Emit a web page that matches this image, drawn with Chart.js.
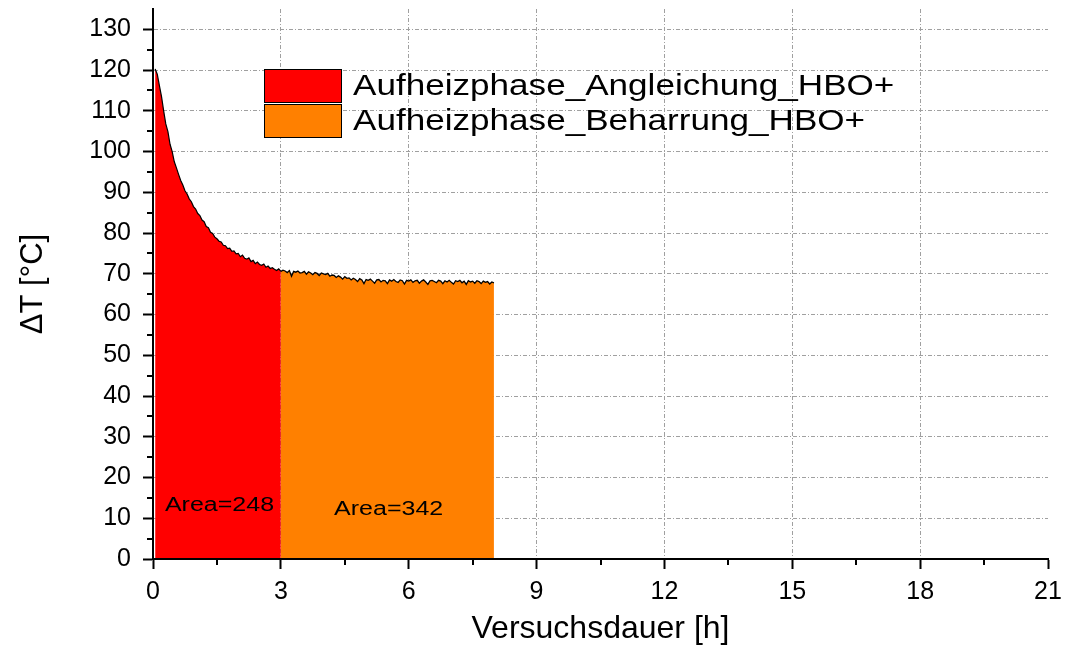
<!DOCTYPE html>
<html>
<head>
<meta charset="utf-8">
<script src="https://cdn.jsdelivr.net/npm/chart.js@4"></script>
<style>
html,body{margin:0;padding:0;background:#fff;}
#c{display:block;}
</style>
</head>
<body>
<canvas id="c" width="1065" height="650"></canvas>
<script>
// ---- data ----
const legendLabels = ['Aufheizphase_Angleichung_HBO+', 'Aufheizphase_Beharrung_HBO+'];
const areaLabels = ['Area=248', 'Area=342'];
const xTicks = [0, 3, 6, 9, 12, 15, 18, 21];
const yTicks = [0, 10, 20, 30, 40, 50, 60, 70, 80, 90, 100, 110, 120, 130];
const xTitle = 'Versuchsdauer [h]';
const yTitle = '\u0394T [\u00B0C]';

const redTime = [0.05,0.10,0.15,0.20,0.25,0.30,0.35,0.40,0.45,0.50,
  0.55,0.60,0.65,0.70,0.75,0.80,0.85,0.90,0.95,1.00,
  1.05,1.10,1.15,1.20,1.25,1.30,1.35,1.40,1.45,1.50,
  1.55,1.60,1.65,1.70,1.75,1.80,1.85,1.90,1.95,2.00,
  2.05,2.10,2.15,2.20,2.25,2.30,2.35,2.40,2.45,2.50,
  2.55,2.60,2.65,2.70,2.75,2.80,2.85,2.90,2.95,3.00];
const redVal = [120.3,119.0,116.2,113.5,110.0,106.8,104.9,101.8,100.0,97.5,
  96.0,94.4,92.9,91.8,90.4,89.6,88.4,87.7,86.5,85.9,
  84.8,84.3,83.2,82.8,81.6,81.3,80.2,79.9,79.0,78.6,
  78.0,77.8,77.0,76.9,76.2,76.3,75.5,75.6,74.9,75.0,
  74.2,74.6,73.8,73.6,73.9,73.0,73.3,72.5,72.9,72.3,
  72.1,72.4,71.6,71.9,71.3,71.5,71.1,70.8,71.2,70.6];

const orangeTime = [3.00,3.05,3.10,3.15,3.20,3.25,3.30,3.35,3.40,3.45,
  3.50,3.55,3.60,3.65,3.70,3.75,3.80,3.85,3.90,3.95,
  4.00,4.05,4.10,4.15,4.20,4.25,4.30,4.35,4.40,4.45,
  4.50,4.55,4.60,4.65,4.70,4.75,4.80,4.85,4.90,4.95,
  5.00,5.05,5.10,5.15,5.20,5.25,5.30,5.35,5.40,5.45,
  5.50,5.55,5.60,5.65,5.70,5.75,5.80,5.85,5.90,5.95,
  6.00,6.05,6.10,6.15,6.20,6.25,6.30,6.35,6.40,6.45,
  6.50,6.55,6.60,6.65,6.70,6.75,6.80,6.85,6.90,6.95,
  7.00,7.05,7.10,7.15,7.20,7.25,7.30,7.35,7.40,7.45,
  7.50,7.55,7.60,7.65,7.70,7.75,7.80,7.85,7.90,7.95,8.00];
const orangeVal = [70.6,70.9,70.7,70.3,70.8,69.4,70.6,70.4,70.7,70.2,
  70.3,70.6,69.9,70.5,70.2,69.8,70.3,70.1,69.6,70.2,
  70.0,69.8,70.1,69.4,69.7,69.6,69.1,69.5,69.2,68.7,
  69.3,68.9,69.0,68.5,68.9,68.6,68.1,68.8,68.5,67.6,
  68.6,68.4,68.7,68.2,67.7,68.5,68.6,68.0,68.4,68.3,
  67.6,68.5,68.2,68.6,68.1,67.9,68.5,68.3,67.5,68.4,
  68.2,68.5,67.9,68.3,68.4,67.7,68.2,68.5,68.0,67.4,
  68.3,68.4,68.1,67.8,68.4,68.2,67.6,68.3,68.0,68.4,
  67.9,67.5,68.3,68.1,68.4,67.8,68.2,67.4,68.3,68.0,
  68.2,67.7,68.3,68.1,67.6,68.2,67.9,68.1,67.5,68.0,67.8];

// ---- styles ----
const FONT = '"Liberation Sans", Arial, sans-serif';
const RED = '#FF0000';
const ORANGE = '#FF8000';

const toPoints = (xs, ys) => xs.map((x, i) => ({x: x, y: ys[i]}));

// custom decorations: minor ticks, legend, area labels
const decorPlugin = {
  id: 'decor',
  afterDraw(chart) {
    const ctx = chart.ctx;
    const xs = chart.scales.x, ys = chart.scales.y;
    const ca = chart.chartArea;
    ctx.save();
    // minor ticks
    ctx.strokeStyle = '#000';
    ctx.lineWidth = 2;
    ctx.beginPath();
    for (let i = 0; i < xTicks.length - 1; i++) {
      const px = Math.round(xs.getPixelForValue((xTicks[i] + xTicks[i + 1]) / 2));
      ctx.moveTo(px, ca.bottom);
      ctx.lineTo(px, ca.bottom + 6);
    }
    for (let i = 0; i < yTicks.length - 1; i++) {
      const py = Math.round(ys.getPixelForValue((yTicks[i] + yTicks[i + 1]) / 2));
      ctx.moveTo(ca.left, py);
      ctx.lineTo(ca.left - 6, py);
    }
    ctx.stroke();

    // legend
    const colors = [RED, ORANGE];
    const boxX = 264, boxW = 78, boxH = 34;
    const rowY = [69, 104];
    for (let i = 0; i < legendLabels.length; i++) {
      ctx.fillStyle = colors[i];
      ctx.fillRect(boxX, rowY[i], boxW, boxH);
      ctx.strokeStyle = '#000';
      ctx.lineWidth = 1;
      ctx.strokeRect(boxX + 0.5, rowY[i] + 0.5, boxW - 1, boxH - 1);
      ctx.save();
      ctx.translate(353, rowY[i] + boxH / 2 + 1);
      ctx.scale(1.21, 1);
      ctx.fillStyle = '#000';
      ctx.font = '29px ' + FONT;
      ctx.textBaseline = 'middle';
      ctx.textAlign = 'left';
      ctx.fillText(legendLabels[i], 0, 0);
      ctx.restore();
    }

    // area labels
    const labelPos = [[1.56, 13.2], [5.53, 12.2]];
    for (let i = 0; i < areaLabels.length; i++) {
      ctx.save();
      ctx.translate(xs.getPixelForValue(labelPos[i][0]), ys.getPixelForValue(labelPos[i][1]));
      ctx.scale(1.25, 1);
      ctx.fillStyle = '#000';
      ctx.font = '20px ' + FONT;
      ctx.textBaseline = 'middle';
      ctx.textAlign = 'center';
      ctx.fillText(areaLabels[i], 0, 0);
      ctx.restore();
    }
    ctx.restore();
  }
};

const gridColor = (hide) => (c) => (c.tick && hide.includes(c.tick.value)) ? 'rgba(0,0,0,0)' : '#a0a0a0';

new Chart(document.getElementById('c'), {
  type: 'line',
  data: {
    datasets: [
      {
        label: legendLabels[0],
        data: toPoints(redTime, redVal),
        borderColor: '#000',
        borderWidth: 1.2,
        backgroundColor: RED,
        fill: 'origin',
        pointRadius: 0,
        tension: 0
      },
      {
        label: legendLabels[1],
        data: toPoints(orangeTime, orangeVal),
        borderColor: '#000',
        borderWidth: 1.3,
        backgroundColor: ORANGE,
        fill: 'origin',
        pointRadius: 0,
        tension: 0
      }
    ]
  },
  options: {
    responsive: false,
    animation: false,
    devicePixelRatio: 1,
    layout: { padding: { top: 9, right: 17, left: 0, bottom: 0 } },
    plugins: {
      legend: { display: false },
      tooltip: { enabled: false }
    },
    scales: {
      x: {
        type: 'linear',
        min: 0,
        max: 21,
        afterBuildTicks: (s) => { s.ticks = xTicks.map(v => ({value: v})); },
        afterFit: (s) => { s.height = 91; s.paddingLeft = 0; s.paddingRight = 0; },
        grid: {
          color: gridColor([0, 21]),
          lineWidth: 1,
          tickColor: '#000',
          tickWidth: 2,
          tickLength: 10,
          tickBorderDash: []
        },
        border: { display: true, color: '#000', width: 2, dash: [4, 2, 1, 2], z: 1 },
        ticks: {
          color: '#000',
          padding: 8,
          font: { family: FONT, size: 25 },
          maxRotation: 0,
          callback: (v) => String(v)
        },
        title: {
          display: true,
          text: xTitle,
          color: '#000',
          font: { family: FONT, size: 32 },
          padding: { top: 0, bottom: 2 }
        }
      },
      y: {
        type: 'linear',
        min: 0,
        max: 135,
        afterBuildTicks: (s) => { s.ticks = yTicks.map(v => ({value: v})); },
        afterFit: (s) => { s.width = 153; s.paddingTop = 0; s.paddingBottom = 0; },
        grid: {
          color: gridColor([0]),
          lineWidth: 1,
          tickColor: '#000',
          tickWidth: 2,
          tickLength: 10,
          tickBorderDash: []
        },
        border: { display: true, color: '#000', width: 2, dash: [4, 2, 1, 2], z: 1 },
        ticks: {
          color: '#000',
          padding: 12,
          font: { family: FONT, size: 25 },
          callback: (v) => String(v)
        },
        title: {
          display: true,
          text: yTitle,
          color: '#000',
          font: { family: FONT, size: 31 },
          padding: { top: 15, bottom: 0 }
        }
      }
    }
  },
  plugins: [decorPlugin]
});
</script>
</body>
</html>
